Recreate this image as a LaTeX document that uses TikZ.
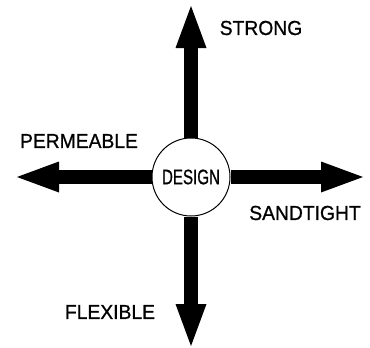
\documentclass[tikz,border=0pt]{standalone}
\usepackage{fontspec}
\setmainfont{Liberation Sans}
\newfontfamily\labelfont[FakeStretch=0.95, FakeBold=0.8]{Liberation Sans}
\newfontfamily\designfont[FakeStretch=0.72, FakeBold=0.8]{Liberation Sans}
\usetikzlibrary{arrows.meta}

\begin{document}
\begin{tikzpicture}[x=1pt, y=-1pt,
    bigarrow/.style={line width=14pt, -{Triangle[length=42pt, width=31pt, line width=0pt]}},
    label/.style={font=\labelfont\fontsize{20.3}{24}\selectfont}]
            \useasboundingbox (0,0) rectangle (370,348);
            % Center
            \node[draw, circle, line width=1pt, minimum size=78pt, inner sep=0pt, font=\designfont\fontsize{21}{24}\selectfont] (design) at (191,177) {DESIGN};
            
            % Arrow ends
            \coordinate (up) at (191,6);
            \coordinate (down) at (191,346);
            \coordinate (left) at (17,177);
            \coordinate (right) at (363,177);
            
            % Labels
            \node[label] (strong) at (261,28) {STRONG};
            \node[label] (permeable) at (79,141) {PERMEABLE};
            \node[label] (sandtight) at (305,213) {SANDTIGHT};
            \node[label] (flexible) at (110,312) {FLEXIBLE};
            
            % Arrows
            \draw[bigarrow] (design.north) -- (up);
            \draw[bigarrow] (design.south) -- (down);
            \draw[bigarrow] (design.west) -- (left);
            \draw[bigarrow] (design.east) -- (right);
        \end{tikzpicture}
\end{document}
